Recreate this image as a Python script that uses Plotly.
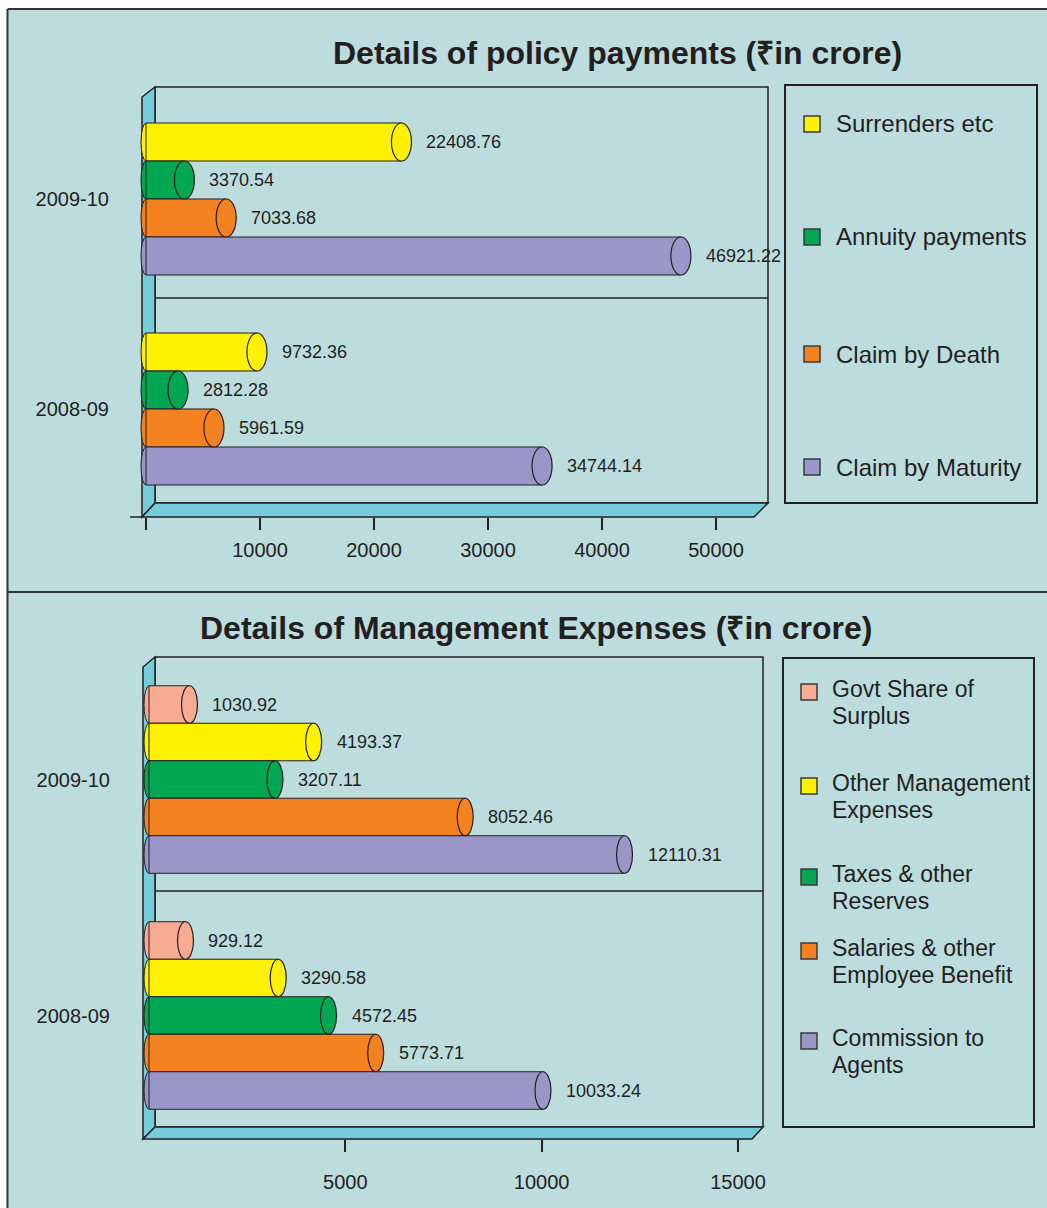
import plotly.graph_objects as go

W, H = 1047, 1208

# ---------------- data ----------------
pp_years = ["2009-10", "2008-09"]
pp_series = ["Surrenders etc", "Annuity payments", "Claim by Death", "Claim by Maturity"]
pp_surrenders = [22408.76, 9732.36]
pp_annuity = [3370.54, 2812.28]
pp_death = [7033.68, 5961.59]
pp_maturity = [46921.22, 34744.14]
pp_ticks = [10000, 20000, 30000, 40000, 50000]

me_years = ["2009-10", "2008-09"]
me_series = ["Govt Share of<br>Surplus", "Other Management<br>Expenses", "Taxes & other<br>Reserves",
             "Salaries & other<br>Employee Benefit", "Commission to<br>Agents"]
me_govt = [1030.92, 929.12]
me_other = [4193.37, 3290.58]
me_taxes = [3207.11, 4572.45]
me_salaries = [8052.46, 5773.71]
me_commission = [12110.31, 10033.24]
me_ticks = [5000, 10000, 15000]

# ---------------- styles ----------------
BG = "#bddcdd"
WALL = "#74cdd8"
INK = "#231f20"
YELLOW, GREEN, ORANGE, PURPLE, SALMON = "#fff200", "#00a651", "#f58220", "#9b96c8", "#f8ab91"
SANS = "Liberation Sans, Arial, Helvetica, sans-serif"


def fx(x):
    return x / W


def fy(y):
    return 1 - y / H


panels = [
    dict(vals=[pp_surrenders, pp_annuity, pp_death, pp_maturity],
         colors=[YELLOW, GREEN, ORANGE, PURPLE], names=pp_series, years=pp_years,
         tickvals=[0] + pp_ticks, ticktext=[""] + [str(t) for t in pp_ticks],
         xa="x", ya="y", left=134, right=772, zero=146, full=716, full_val=50000,
         top=87, bottom=517, c0=199, gap=210, bar=38, cap=20, lcap=10, standoff=3,
         title="Details of policy payments (₹in crore)", tx=617, ty=53,
         wall=dict(l=142, b=155, r=768, rf=754, t=87, bk=503, f=517),
         sep=298,
         leg=dict(x0=785, y0=85, x1=1037, y1=503, sq=804, tx=834, ys=[124, 237, 354, 467], fs=24, lh=0)),
    dict(vals=[me_govt, me_other, me_taxes, me_salaries, me_commission],
         colors=[SALMON, YELLOW, GREEN, ORANGE, PURPLE], names=me_series, years=me_years,
         tickvals=me_ticks, ticktext=[str(t) for t in me_ticks],
         xa="x2", ya="y2", left=135, right=772, zero=149, full=738, full_val=15000,
         top=657, bottom=1139, c0=779.5, gap=236, bar=37.5, cap=16, lcap=10, standoff=13,
         title="Details of Management Expenses (₹in crore)", tx=535.5, ty=628,
         wall=dict(l=143, b=155, r=763, rf=752, t=657, bk=1127, f=1139),
         sep=891,
         leg=dict(x0=783, y0=658, x1=1034, y1=1127, sq=801, tx=830, ys=[689, 783, 874, 948, 1038],
                  fs=23, lh=27)),
]

fig = go.Figure()
shapes = []
annotations = []

# page background & frame
shapes.append(dict(type="rect", xref="paper", yref="paper", x0=fx(7.5), x1=fx(1050), y0=fy(1210), y1=fy(9),
                   fillcolor=BG, line=dict(width=0), layer="below"))
for (x0, y0, x1, y1) in [(7.5, 9, 1047, 9), (7.5, 9, 7.5, 1208), (7.5, 592, 1047, 592)]:
    shapes.append(dict(type="line", xref="paper", yref="paper", x0=fx(x0), x1=fx(x1), y0=fy(y0), y1=fy(y1),
                       line=dict(color="#333333", width=2), layer="below"))

layout_axes = {}
for i, p in enumerate(panels):
    s = (p["full"] - p["zero"]) / p["full_val"]
    xmin = (p["left"] - p["zero"]) / s
    xmax = (p["right"] - p["zero"]) / s
    yr = [(p["bottom"] - p["c0"]) / p["gap"], (p["top"] - p["c0"]) / p["gap"]]
    bw = p["bar"] / p["gap"]
    n = len(p["vals"])
    ng = len(p["years"])

    # 3D walls (decoration, paper coords)
    w = p["wall"]
    shapes.append(dict(type="rect", xref="paper", yref="paper", x0=fx(w["b"]), x1=fx(w["r"]),
                       y0=fy(w["bk"]), y1=fy(w["t"]), fillcolor=BG, line=dict(color=INK, width=1.5), layer="below"))
    shapes.append(dict(type="path", xref="paper", yref="paper",
                       path=f"M {fx(w['l'])} {fy(w['t'] + 10)} L {fx(w['b'])} {fy(w['t'])} L {fx(w['b'])} {fy(w['bk'])} "
                            f"L {fx(w['l'])} {fy(w['f'])} Z",
                       fillcolor=WALL, line=dict(color=INK, width=1.5), layer="below"))
    shapes.append(dict(type="path", xref="paper", yref="paper",
                       path=f"M {fx(w['l'])} {fy(w['f'])} L {fx(w['b'])} {fy(w['bk'])} L {fx(w['r'])} {fy(w['bk'])} "
                            f"L {fx(w['rf'])} {fy(w['f'])} Z",
                       fillcolor=WALL, line=dict(color=INK, width=1.5), layer="below"))
    shapes.append(dict(type="line", xref="paper", yref="paper", x0=fx(w["b"]), x1=fx(w["r"]),
                       y0=fy(p["sep"]), y1=fy(p["sep"]), line=dict(color=INK, width=1.5), layer="below"))
    if i == 0:
        shapes.append(dict(type="line", xref="paper", yref="paper", x0=fx(130), x1=fx(w["l"]),
                           y0=fy(w["f"]), y1=fy(w["f"]), line=dict(color=INK, width=1.5), layer="below"))

    # bars
    for j, (vals, col, name) in enumerate(zip(p["vals"], p["colors"], p["names"])):
        off = (j - (n - 1) / 2) * bw
        ys = [g + off for g in range(ng)]
        fig.add_trace(go.Bar(x=vals, y=ys, base=0, width=bw, orientation="h", name=name.replace("<br>", " "),
                             marker=dict(color=col, line=dict(color=INK, width=1)),
                             xaxis=p["xa"], yaxis=p["ya"], hoverinfo="skip", showlegend=False))
        for v, yc in zip(vals, ys):
            # left rounded end
            shapes.append(dict(type="circle", xref=p["xa"], yref=p["ya"],
                               x0=-p["lcap"] / 2 / s, x1=p["lcap"] / 2 / s, y0=yc - bw / 2, y1=yc + bw / 2,
                               fillcolor=col, line=dict(color=INK, width=1), layer="below"))
            # right cap
            shapes.append(dict(type="circle", xref=p["xa"], yref=p["ya"],
                               x0=v - p["cap"] / 2 / s, x1=v + p["cap"] / 2 / s, y0=yc - bw / 2, y1=yc + bw / 2,
                               fillcolor=col, line=dict(color=INK, width=1.2), layer="above"))
            annotations.append(dict(x=v, y=yc, xref=p["xa"], yref=p["ya"], text=f"{v:.2f}", showarrow=False,
                                    xanchor="left", yanchor="middle", xshift=p["cap"] / 2 + 13,
                                    font=dict(family=SANS, size=18, color=INK)))

    # axes
    xkey = "xaxis" if p["xa"] == "x" else "xaxis2"
    ykey = "yaxis" if p["ya"] == "y" else "yaxis2"
    layout_axes[xkey] = dict(domain=[fx(p["left"]), fx(p["right"])], range=[xmin, xmax], anchor=p["ya"],
                             tickvals=p["tickvals"], ticktext=p["ticktext"], ticks="outside", ticklen=12,
                             tickwidth=1.5, tickcolor=INK, showgrid=False, zeroline=False, showline=False,
                             ticklabelstandoff=p["standoff"], tickfont=dict(family=SANS, size=20, color=INK),
                             fixedrange=True)
    layout_axes[ykey] = dict(domain=[fy(p["bottom"]), fy(p["top"])], range=yr, anchor=p["xa"],
                             tickvals=list(range(ng)), ticktext=p["years"], ticks="", showgrid=False,
                             zeroline=False, showline=False, ticklabelstandoff=24,
                             tickfont=dict(family=SANS, size=20, color=INK), fixedrange=True)

    # title
    annotations.append(dict(x=fx(p["tx"]), y=fy(p["ty"]), xref="paper", yref="paper", text=f"<b>{p['title']}</b>",
                            showarrow=False, xanchor="center", yanchor="middle",
                            font=dict(family=SANS, size=32, color=INK)))

    # legend box
    lg = p["leg"]
    shapes.append(dict(type="rect", xref="paper", yref="paper", x0=fx(lg["x0"]), x1=fx(lg["x1"]),
                       y0=fy(lg["y1"]), y1=fy(lg["y0"]), line=dict(color=INK, width=2), layer="above"))
    for yv, col, name in zip(lg["ys"], p["colors"], p["names"]):
        sy = yv + (3 if lg["lh"] else 0)
        shapes.append(dict(type="rect", xref="paper", yref="paper", x0=fx(lg["sq"]), x1=fx(lg["sq"] + 16),
                           y0=fy(sy + 8), y1=fy(sy - 8), fillcolor=col, line=dict(color="#3a3a3a", width=1.5),
                           layer="above"))
        for k, line in enumerate(name.split("<br>")):
            annotations.append(dict(x=fx(lg["tx"]), y=fy(yv + k * lg["lh"]), xref="paper", yref="paper",
                                    text=line, showarrow=False, xanchor="left", yanchor="middle", align="left",
                                    font=dict(family=SANS, size=lg["fs"], color=INK)))

fig.update_layout(width=W, height=H, autosize=False, margin=dict(l=0, r=0, t=0, b=0),
                  paper_bgcolor="white", plot_bgcolor="rgba(0,0,0,0)", barmode="overlay",
                  showlegend=False, shapes=shapes, annotations=annotations, **layout_axes)

fig.write_html("out.html", config={"displayModeBar": False},
               post_script="document.body.style.margin='0';document.body.style.overflow='hidden';")
